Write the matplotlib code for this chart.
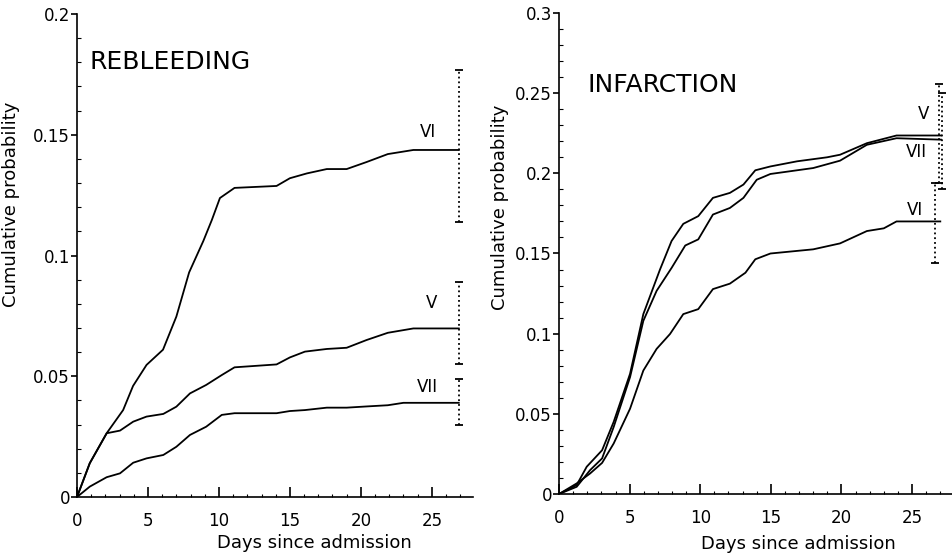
import numpy as np
import matplotlib
matplotlib.use("Agg")
import matplotlib.pyplot as plt
from matplotlib.ticker import MultipleLocator

plt.rcParams['font.family'] = ['DejaVu Sans']

# rebleeding curves (left panel)
reb_vi_days = [0, 0.9, 2.1, 3.25, 3.95, 4.9, 6.06, 7.0, 7.9, 8.9, 9.5, 10.07, 11.1,
               14.06, 15.0, 16.2, 17.6, 19.0, 20.4, 21.9, 23.7, 26.9]
reb_vi = [0, 0.014, 0.0265, 0.036, 0.046, 0.0547, 0.061, 0.0747, 0.093, 0.106, 0.1147,
          0.1238, 0.128, 0.1288, 0.132, 0.134, 0.1358, 0.1358, 0.1387, 0.142, 0.1437, 0.1437]
reb_v_days = [0, 0.9, 2.09, 3.03, 3.96, 4.9, 6.08, 7.0, 7.96, 9.1, 10.2, 11.1, 14.06,
              15.0, 16.06, 17.6, 19.0, 20.4, 21.9, 23.7, 26.9]
reb_v = [0, 0.014, 0.0264, 0.0275, 0.0312, 0.0333, 0.0344, 0.0374, 0.0429, 0.0464, 0.0505,
         0.0537, 0.0549, 0.0578, 0.0602, 0.0613, 0.0618, 0.065, 0.068, 0.0698, 0.0698]
reb_vii_days = [0, 0.9, 2.09, 3.03, 3.96, 4.9, 6.08, 7.0, 7.96, 9.1, 10.2, 11.1, 14.06,
                15.0, 16.06, 17.6, 19.0, 20.4, 21.9, 23.0, 26.9]
reb_vii = [0, 0.0043, 0.0082, 0.0098, 0.0142, 0.016, 0.0174, 0.0208, 0.0257, 0.0291, 0.034,
           0.0347, 0.0347, 0.0356, 0.036, 0.037, 0.037, 0.0375, 0.038, 0.039, 0.039]

# infarction curves (right panel)
inf_vi_days = [0, 1.25, 2.2, 3.05, 3.87, 5.03, 5.97, 6.91, 7.86, 8.8, 9.86, 10.9, 12.1,
               13.2, 13.9, 14.97, 18.0, 19.9, 21.8, 23.0, 23.9, 27.0]
inf_vi = [0, 0.0066, 0.0128, 0.0194, 0.0315, 0.0532, 0.077, 0.0905, 0.0998, 0.1122, 0.1153,
          0.1278, 0.1312, 0.138, 0.1464, 0.150, 0.1526, 0.1563, 0.164, 0.1657, 0.170, 0.170]
inf_v_days = [0, 1.25, 1.96, 3.05, 3.87, 5.03, 5.97, 7.15, 7.97, 8.8, 9.86, 10.9, 12.1,
              13.06, 13.9, 14.97, 16.86, 18.98, 19.9, 21.8, 23.9, 27.05]
inf_v = [0, 0.0056, 0.017, 0.0273, 0.045, 0.075, 0.1122, 0.14, 0.1578, 0.1685, 0.1733,
         0.1847, 0.1878, 0.193, 0.2019, 0.2043, 0.2075, 0.21, 0.2116, 0.2188, 0.2236, 0.2236]
inf_vii_days = [0, 1.25, 2.2, 3.05, 3.87, 5.03, 5.97, 6.91, 7.97, 8.94, 9.86, 10.9, 12.1,
                13.06, 14.0, 14.97, 18.0, 19.9, 21.8, 23.9, 27.05]
inf_vii = [0, 0.0045, 0.0149, 0.0222, 0.0418, 0.0729, 0.108, 0.1267, 0.141, 0.155, 0.1588,
           0.1743, 0.1784, 0.1847, 0.196, 0.1996, 0.2033, 0.2079, 0.2178, 0.2219, 0.221]

# confidence bars at the end of follow-up: (day, low, high)
reb_bars = [(26.9, 0.114, 0.177), (26.9, 0.055, 0.089), (26.9, 0.030, 0.049)]
inf_bars = [(26.6, 0.144, 0.194), (26.9, 0.194, 0.256), (27.15, 0.190, 0.250)]

# curve labels: (text, day, value)
reb_labels = [("VI", 24.7, 0.1513), ("V", 25.0, 0.0802), ("VII", 24.7, 0.0457)]
inf_labels = [("V", 25.8, 0.237), ("VII", 25.3, 0.213), ("VI", 25.2, 0.177)]


def style_axis(ax, ymax, xmax):
    ax.set_xlim(0, xmax)
    ax.set_ylim(0, ymax)
    ax.spines['top'].set_visible(False)
    ax.spines['right'].set_visible(False)
    ax.xaxis.set_major_locator(MultipleLocator(5))
    ax.xaxis.set_minor_locator(MultipleLocator(1))
    ax.yaxis.set_major_locator(MultipleLocator(0.05))
    ax.yaxis.set_minor_locator(MultipleLocator(0.01))
    ax.yaxis.set_major_formatter(plt.FuncFormatter(lambda v, p: '%g' % round(v, 3)))
    ax.tick_params(axis='x', which='major', direction='in', length=7, width=1.2,
                   pad=11, labelsize=12)
    ax.tick_params(axis='x', which='minor', direction='in', length=2, width=0.8)
    ax.tick_params(axis='y', which='major', direction='out', length=4, width=1.2,
                   pad=1, labelsize=12)
    ax.tick_params(axis='y', which='minor', direction='in', length=3, width=0.8)
    for s in ['left', 'bottom']:
        ax.spines[s].set_linewidth(1.2)


def draw_bars(ax, bars):
    for x, lo, hi in bars:
        ax.vlines(x, lo, hi, colors='k', linestyles=':', linewidth=1.3)
        ax.plot([x, x], [lo, hi], ls='none', marker='_', ms=6, mew=1.3, color='k')


fig = plt.figure(figsize=(9.53, 5.58), dpi=100)
ax1 = fig.add_axes([0.0808, 0.1093, 0.4155, 0.8656])
ax2 = fig.add_axes([0.5866, 0.1147, 0.4134, 0.862])

# left panel
ax1.plot(reb_vi_days, reb_vi, color='k', lw=1.3)
ax1.plot(reb_v_days, reb_v, color='k', lw=1.3)
ax1.plot(reb_vii_days, reb_vii, color='k', lw=1.3)
draw_bars(ax1, reb_bars)
for t, x, y in reb_labels:
    ax1.text(x, y, t, ha='center', va='center', fontsize=12)
ax1.text(0.9, 0.18, 'REBLEEDING', fontsize=18, va='center', ha='left')
style_axis(ax1, 0.2, 27.9)
ax1.set_xlabel('Days since admission', fontsize=13)
ax1.xaxis.set_label_coords(0.6, -0.077)
ax1.set_ylabel('Cumulative probability', fontsize=13)
ax1.yaxis.set_label_coords(-0.145, 0.605)

# right panel
ax2.plot(inf_v_days, inf_v, color='k', lw=1.3)
ax2.plot(inf_vii_days, inf_vii, color='k', lw=1.3)
ax2.plot(inf_vi_days, inf_vi, color='k', lw=1.3)
draw_bars(ax2, inf_bars)
for t, x, y in inf_labels:
    ax2.text(x, y, t, ha='center', va='center', fontsize=12)
ax2.text(2.0, 0.255, 'INFARCTION', fontsize=18, va='center', ha='left')
style_axis(ax2, 0.3, 27.9)
ax2.set_xlabel('Days since admission', fontsize=13)
ax2.xaxis.set_label_coords(0.607, -0.085)
ax2.set_ylabel('Cumulative probability', fontsize=13)
ax2.yaxis.set_label_coords(-0.128, 0.597)

fig.savefig('out.png', dpi=100)
